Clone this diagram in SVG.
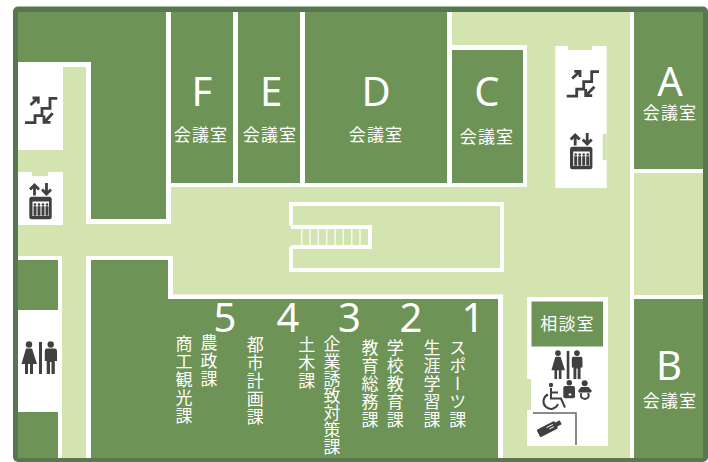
<svg xmlns="http://www.w3.org/2000/svg" xmlns:xlink="http://www.w3.org/1999/xlink" width="708" height="462" viewBox="0 0 708 462">
<style>
.room{fill:#6d9356}.w{fill:#fff}.l{fill:#d3e4b0}
.big{font-family:"Noto Sans","Liberation Sans",sans-serif;font-size:40px;fill:#fff;text-anchor:middle;font-weight:400}
.lab{font-family:"Noto Sans CJK JP",sans-serif;font-size:17px;letter-spacing:1.2px;fill:#fff;text-anchor:middle;font-weight:400}
.v{font-family:"Noto Sans CJK JP",sans-serif;font-size:17px;letter-spacing:1px;fill:#fff;writing-mode:vertical-rl;font-weight:400}
.v7{letter-spacing:0.1px}
.ic{fill:none;stroke:#404040;stroke-width:2.800}
.id{fill:#404040}
</style>
<defs>
<g id="stair">
<path class="ic" d="M25 122.700H35V115.700H42V108.300H50V98.300H57.300"/>
<path class="ic" d="M30.500 105L38 98M32.500 98H38.300V103.500M52.700 113.300L44.500 122M44 115.500V122.300H50.500"/>
</g>
<g id="lift">
<rect class="id" x="29.300" y="196.700" width="22.400" height="22.600" rx="2.500"/>
<rect class="w" x="32.500" y="201.500" width="16.500" height="14.500"/>
<path class="ic" d="M34.500 195.500V185M30 189.500L34.500 185L39 189.500M46.500 183V194M42 189.500L46.500 194L51 189.500"/>
<g class="id">
<circle cx="35" cy="204.500" r="1.300"/><circle cx="39" cy="204.500" r="1.300"/><circle cx="43" cy="204.500" r="1.300"/><circle cx="47" cy="204.500" r="1.300"/>
<rect x="33.500" y="206.200" width="3" height="9.500"/><rect x="37.500" y="206.200" width="3" height="9.500"/><rect x="41.500" y="206.200" width="3" height="9.500"/><rect x="45.500" y="206.200" width="3" height="9.500"/>
</g>
</g>
<g id="wc" class="id">
<circle cx="29" cy="344.500" r="3.200"/>
<path d="M26 348.500H32L37 364H33V374H30V364H28V374H25V364H21.500Z"/>
<rect x="39" y="342" width="3" height="32"/>
<circle cx="50.700" cy="344.500" r="3.200"/>
<path d="M46.500 348.500H55Q57 348.500 57 351V361H54.800V374H51.500V362H50V374H46.700V361H44.800V351Q44.800 348.500 46.500 348.500Z"/>
</g>
</defs>
<g id="frame">
<rect x="13" y="6.500" width="695" height="455.500" rx="5" fill="#56784f"/>
<rect class="l" x="18" y="12" width="685" height="446"/>
</g>
<g id="room-office-nw">
<path class="w" d="M18 12H171V224H86V67H18Z"/>
<path class="room" d="M18 12H166V219H91V62H18Z"/>
</g>
<g id="room-F"><rect class="w" x="171" y="12" width="67" height="175"/><rect class="room" x="171" y="12" width="62" height="171"/>
<text class="big" x="202" y="106">F</text><text class="lab" x="201" y="141">会議室</text></g>
<g id="room-E"><rect class="w" x="233" y="12" width="72" height="175"/><rect class="room" x="238" y="12" width="62" height="171"/>
<text class="big" x="271" y="106">E</text><text class="lab" x="270" y="141">会議室</text></g>
<g id="room-D"><rect class="w" x="300" y="12" width="152" height="175"/><rect class="room" x="305" y="12" width="142" height="171"/>
<text class="big" x="376" y="106">D</text><text class="lab" x="376" y="141">会議室</text></g>
<g id="room-C"><rect class="w" x="447" y="45" width="80" height="142"/><rect class="room" x="452" y="50" width="71" height="133"/>
<text class="big" x="487" y="106">C</text><text class="lab" x="487" y="143">会議室</text></g>
<g id="room-A"><rect class="w" x="630" y="12" width="4" height="284"/><rect class="w" x="630" y="169" width="73" height="4"/><rect class="room" x="634" y="12" width="69" height="157"/>
<text class="big" x="670" y="96">A</text><text class="lab" x="670" y="119">会議室</text></g>
<g id="room-B"><rect class="w" x="630" y="295" width="73" height="163"/><rect class="room" x="634" y="299" width="69" height="159"/>
<text class="big" x="669" y="380">B</text><text class="lab" x="670" y="407">会議室</text></g>
<g id="office-south">
<path class="w" d="M86 256H173V294.500H503V458H86Z"/>
<path class="room" d="M91 260H168V299H498V458H91Z"/>
<text class="big" x="225" y="332">5</text><text class="big" x="288" y="332">4</text><text class="big" x="349.500" y="332">3</text><text class="big" x="411" y="332">2</text><text class="big" x="473" y="332">1</text>
<text class="v" x="184" y="335">商工観光課</text>
<text class="v" x="209" y="334">農政課</text>
<text class="v" x="255.300" y="336">都市計画課</text>
<text class="v" x="306.700" y="336">土木課</text>
<text class="v v7" x="332" y="335.500">企業誘致対策課</text>
<text class="v" x="370" y="339">教育総務課</text>
<text class="v" x="395.300" y="339">学校教育課</text>
<text class="v" x="432" y="339">生涯学習課</text>
<text class="v" x="457.700" y="339">スポーツ課</text>
</g>
<g id="office-west">
<path class="w" d="M18 256H62V458H58V260H18Z"/>
<rect class="room" x="18" y="260" width="40" height="50"/>
<rect class="room" x="18" y="412" width="40" height="46"/>
</g>
<g id="wc-west"><rect class="w" x="18" y="310" width="40" height="102"/><use href="#wc"/></g>
<g id="stairs-west"><rect class="w" x="18" y="67" width="45" height="83"/><use href="#stair"/></g>
<g id="lift-west"><rect class="w" x="18" y="172" width="45" height="53"/><rect class="l" x="32" y="172" width="16" height="4"/><use href="#lift"/></g>
<g id="core-east"><rect class="w" x="555.300" y="46" width="51.400" height="142"/><rect class="l" x="568" y="46" width="24" height="4"/><rect class="l" x="602.700" y="134" width="4" height="26"/>
<use href="#stair" x="541.700" y="-26.600"/><use href="#lift" x="540.700" y="-50"/></g>
<g id="central-stairs" fill="none" stroke="#fff">
<path stroke-width="4" d="M291 226V204H502V270H291V247"/>
<path stroke-width="4" d="M291 227H370V247H291"/>
<path stroke-width="1.500" opacity="0.8" d="M301.700 228V246M310 228V246M318.300 228V246M326.700 228V246M335 228V246M343.300 228V246M351.700 228V246M360 228V246"/>
</g>
<g id="consult">
<rect class="w" x="527" y="297" width="81" height="149"/>
<rect class="l" x="527" y="379" width="4" height="31"/>
<rect class="room" x="531.500" y="301.500" width="71.500" height="45"/>
<text class="lab" x="567.500" y="330">相談室</text>
<use href="#wc" transform="translate(532.600,51.700) scale(0.875)"/>
<path fill="none" stroke="#666" stroke-width="1.500" d="M533 413H576V445"/>
<g id="accessible-icon">
<circle class="id" cx="551" cy="385" r="2.200"/>
<path fill="none" stroke="#404040" stroke-width="2" d="M551 388V398.500H561L565 407.500M551 392.500H558M548 394.500A7.500 7.500 0 1 0 558 404"/>
<circle class="id" cx="569.300" cy="382.700" r="2.800"/>
<rect class="id" x="563.300" y="386" width="11.700" height="12.300" rx="2"/>
<path fill="none" stroke="#fff" d="M568.500 394.500h3M570 393v3"/>
<circle class="id" cx="584.700" cy="383.300" r="3"/>
<path class="id" d="M581 387H588.500L592 391L590 393L588.500 392V392.500H581V392L579.500 393L578 391Z"/>
<path fill="none" stroke="#404040" stroke-width="2" d="M581.500 393Q579 398 585 399Q590.500 398 588 393"/>
<g transform="rotate(-27 549 428)"><rect class="id" x="537" y="424" width="20" height="8.500" rx="1.500"/><rect class="id" x="556" y="426" width="6" height="4.500"/><path fill="none" stroke="#fff" d="M547 426.500h7M549 429h5"/></g>
</g>
</g>
</svg>
